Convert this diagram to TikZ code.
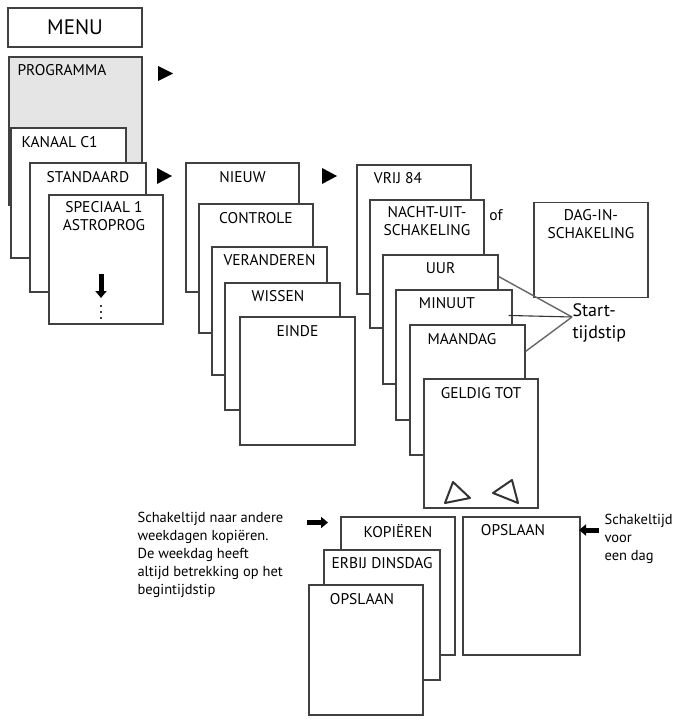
\documentclass[tikz,border=0pt]{standalone}
\usepackage{fontspec}
\setmainfont{PT Sans}
\usetikzlibrary{arrows.meta,positioning}
\begin{document}
\begin{tikzpicture}
[x=1pt, y=-1pt, line width=1.1pt, draw=black!75,
box/.style={rectangle, draw=black!75, fill=white, inner sep=0pt},
head/.style={anchor=north, align=center, font=\fontsize{15.5}{18}\selectfont, inner sep=0pt},
note/.style={anchor=north west, align=left, inner sep=0pt, font=\fontsize{14.5}{18}\selectfont},
play/.style={fill=black},
fat/.style={line width=5pt, -{Triangle[length=7pt,width=11pt]}, draw=black}]

\useasboundingbox (0,0) rectangle (679,720);

% menu column
\node[box, minimum width=134, minimum height=39] (menu) at (75,27.5) {};
\node[font=\fontsize{21}{24}\selectfont] at (menu) {MENU};
\node[box, fill=black!10, minimum width=133, minimum height=148] (prog) at (75.5,131) {};
\node[head, anchor=north west] at (17,64) {PROGRAMMA};
\node[box, minimum width=115, minimum height=130] (kanaal) at (68.5,193) {};
\node[head, anchor=north west] at (21,136) {KANAAL C1};
\node[box, minimum width=116, minimum height=129] (std) at (88,227.5) {};
\node[head] at (88,171) {STANDAARD};
\node[box, minimum width=114, minimum height=129] (spec) at (106,259.5) {};
\node[head] at (104,201) {SPECIAAL 1\\ASTROPROG};
\draw[fat] (101,274) -- (101,298);
\foreach \y in {306,312,318} \fill (101,\y) circle (1.2pt);

\fill[play] (158,66) -- (173,73.5) -- (158,81) -- cycle;
\fill[play] (157,168) -- (172,176) -- (157,184) -- cycle;
\fill[play] (322,168) -- (337,176) -- (322,184) -- cycle;

% second column
\node[box, minimum width=113, minimum height=129] (nieuw) at (242.5,227.5) {};
\node[head] at (242.5,171) {NIEUW};
\node[box, minimum width=114, minimum height=129] (contr) at (256,268.5) {};
\node[head] at (256,212) {CONTROLE};
\node[box, minimum width=115, minimum height=128] (verand) at (269.5,311) {};
\node[head] at (269.5,254) {VERANDEREN};
\node[box, minimum width=115, minimum height=127] (wissen) at (282.5,346.5) {};
\node[head] at (278,290) {WISSEN};
\node[box, minimum width=115, minimum height=128] (einde) at (297.5,381) {};
\node[head] at (297.5,325) {EINDE};

% third column
\node[box, minimum width=114, minimum height=129] (vrij) at (414,229.5) {};
\node[head] at (398,172) {VRIJ 84};
\node[box, minimum width=114, minimum height=128] (nacht) at (427,264) {};
\node[head] at (427,206) {NACHT-UIT-\\SCHAKELING};
\node[font=\fontsize{15.5}{18}\selectfont] at (496,215) {of};
\node[box, minimum width=114, minimum height=95] (dag) at (591,250) {};
\node[head] at (591,209) {DAG-IN-\\SCHAKELING};
\node[box, minimum width=115, minimum height=129] (uur) at (440.5,319.5) {};
\node[head] at (440.5,262) {UUR};
\node[box, minimum width=116, minimum height=130] (minuut) at (454,355) {};
\node[head] at (447,297) {MINUUT};
\node[box, minimum width=115, minimum height=130] (maandag) at (467.5,390) {};
\node[head] at (462,333) {MAANDAG};
\node[box, minimum width=114, minimum height=129] (geldig) at (481,443.5) {};
\node[head] at (481,387) {GELDIG TOT};
\draw[line width=2pt, draw=black!80, line join=round] (445,503) -- (470,498) -- (453,482) -- cycle;
\draw[line width=2pt, draw=black!80, line join=round] (493,493) -- (518,503) -- (512,480) -- cycle;

% start time
\coordinate (st) at (572,317);
\node[anchor=west, align=left, inner sep=0pt, font=\fontsize{18}{22}\selectfont] (sttxt) at ([yshift=-6]st) {Start-\\tijdstip};
\draw[black!60, line width=1.4pt] ([yshift=-22]uur.north east) -- (st);
\draw[black!80, line width=1.1pt] ([xshift=-4, yshift=-26]minuut.north east) -- (st);
\draw[black!60, line width=1.4pt] ([yshift=-27]maandag.north east) -- (st);

% bottom part
\node[note] (kopnote) at (137,512) {Schakeltijd naar andere\\weekdagen kopiëren.\\De weekdag heeft\\altijd betrekking op het\\begintijdstip};
\draw[fat] (307,522.5) -- (328,522.5);
\node[box, minimum width=114, minimum height=138] (kop) at (398,586) {};
\node[head] at (398,524) {KOPIËREN};
\node[box, minimum width=116, minimum height=130] (erbij) at (382,615) {};
\node[head] at (382,557) {ERBIJ DINSDAG};
\node[box, minimum width=114, minimum height=130] (ops1) at (366,650) {};
\node[head] at (362,593) {OPSLAAN};
\node[box, minimum width=117, minimum height=138] (ops2) at (521.5,586) {};
\node[head] at (513,524) {OPSLAAN};
\draw[fat] (599,530) -- (579,530);
\node[note] (dagnote) at (604,514) {Schakeltijd\\voor\\een dag};
\end{tikzpicture}
\end{document}
